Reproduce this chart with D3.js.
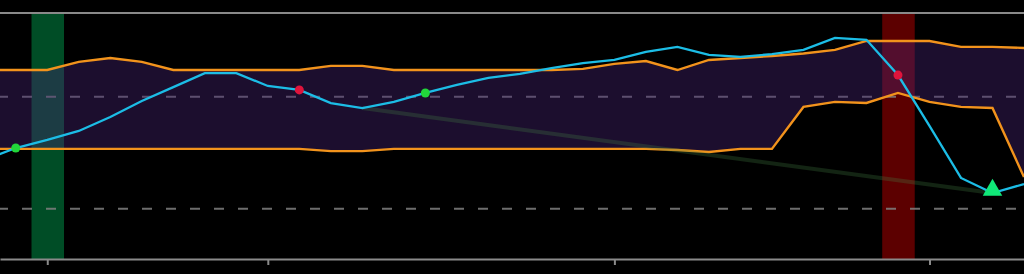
<!DOCTYPE html>
<html>
<head>
<meta charset="utf-8">
<script src="https://cdn.jsdelivr.net/npm/d3@7"></script>
<style>
  html, body { margin: 0; padding: 0; background: #000; }
  svg { display: block; }
</style>
</head>
<body>
<div id="chart"></div>
<script>
// bar index runs from -1 (just off the left edge) to 32
const idx = d3.range(-1, 33)

const upperBand = [79.6, 79.6, 79.6, 82.5, 83.9, 82.5, 79.6, 79.6, 79.6, 79.6, 79.6, 81.1, 81.1, 79.6, 79.6, 79.6,
    79.6, 79.6, 79.6, 80.0, 81.8, 82.8, 79.6, 83.2, 83.9, 84.6, 85.5, 86.8, 90.0, 90.0, 90.0, 87.9, 87.9, 87.5]
const lowerBand = [51.4, 51.4, 51.4, 51.4, 51.4, 51.4, 51.4, 51.4, 51.4, 51.4, 51.4, 50.6, 50.6, 51.4, 51.4, 51.4,
    51.4, 51.4, 51.4, 51.4, 51.4, 51.4, 51.0, 50.3, 51.4, 51.4, 66.4, 68.2, 67.8, 71.4, 68.2, 66.4, 66.0, 41.3]
const signal = [47.4, 51.7, 54.6, 57.8, 62.8, 68.5, 73.5, 78.5, 78.5, 73.9, 72.5, 67.8, 66.0, 68.2, 71.4, 74.3,
    76.8, 78.2, 80.3, 82.1, 83.2, 86.1, 87.9, 85.0, 84.3, 85.3, 86.8, 91.1, 90.4, 77.8, 59.6, 41.0, 35.6, 38.8]

const levels = [30, 70]
const tickIdx = [1, 8, 19, 29]
const buyDots = [0, 13]
const sellDots = [9, 28]
const buyZones = [1]
const sellZones = [28]
const trendFrom = 11
const trendTo = 31

const width = 1024, height = 274
const plotTop = 13, plotBottom = 259

const x = d3.scaleLinear().domain([-0.5, 32]).range([0, width])
const y = d3.scaleLinear().domain([12, 100]).range([plotBottom, plotTop])
const step = x(1) - x(0)
const val = (arr, i) => arr[idx.indexOf(i)]

const svg = d3.select('#chart').append('svg')
    .attr('width', width)
    .attr('height', height)
    .style('background', '#000')

svg.append('defs').append('clipPath').attr('id', 'plot')
    .append('rect').attr('x', 0).attr('y', plotTop).attr('width', width).attr('height', plotBottom - plotTop)

const g = svg.append('g').attr('clip-path', 'url(#plot)')

// highlight zones
g.selectAll('.buyzone').data(buyZones).enter().append('rect')
    .attr('x', d => x(d) - step / 2).attr('width', step + 1)
    .attr('y', plotTop).attr('height', plotBottom - plotTop)
    .attr('fill', '#004d26')
g.selectAll('.sellzone').data(sellZones).enter().append('rect')
    .attr('x', d => x(d) - step / 2).attr('width', step + 1)
    .attr('y', plotTop).attr('height', plotBottom - plotTop)
    .attr('fill', '#5c0000')

// level lines
g.selectAll('.level').data(levels).enter().append('line')
    .attr('x1', 0).attr('x2', width)
    .attr('y1', d => y(d)).attr('y2', d => y(d))
    .attr('stroke', '#808080').attr('stroke-width', 2)
    .attr('stroke-opacity', 0.85)
    .attr('stroke-dasharray', '10,14').attr('stroke-dashoffset', 2)

// channel fill
const area = d3.area()
    .x((d, i) => x(idx[i]))
    .y0((d, i) => y(lowerBand[i]))
    .y1((d, i) => y(upperBand[i]))
g.append('path').datum(upperBand)
    .attr('d', area)
    .attr('fill', 'rgb(70,35,115)').attr('fill-opacity', 0.4)

const line = arr => d3.line().x((d, i) => x(idx[i])).y(d => y(d))(arr)

g.append('path').attr('d', line(upperBand))
    .attr('fill', 'none').attr('stroke', '#f2931c').attr('stroke-width', 2.4)
g.append('path').attr('d', line(lowerBand))
    .attr('fill', 'none').attr('stroke', '#f2931c').attr('stroke-width', 2.4)

// faint trend line
g.append('line')
    .attr('x1', x(trendFrom)).attr('y1', y(val(signal, trendFrom)))
    .attr('x2', x(trendTo)).attr('y2', y(val(signal, trendTo)))
    .attr('stroke', 'rgb(70,130,70)').attr('stroke-opacity', 0.28)
    .attr('stroke-width', 4)

g.append('path').attr('d', line(signal))
    .attr('fill', 'none').attr('stroke', '#1cbde6').attr('stroke-width', 2.3)

g.selectAll('.buy').data(buyDots).enter().append('circle')
    .attr('cx', d => x(d)).attr('cy', d => y(val(signal, d)))
    .attr('r', 4.5).attr('fill', '#22d63a')
g.selectAll('.sell').data(sellDots).enter().append('circle')
    .attr('cx', d => x(d)).attr('cy', d => y(val(signal, d)))
    .attr('r', 4.5).attr('fill', '#e0143c')

g.append('path')
    .attr('d', d3.symbol().type(d3.symbolTriangle).size(165)())
    .attr('transform', 'translate(' + x(trendTo) + ',' + (y(val(signal, trendTo)) - 3) + ')')
    .attr('fill', '#10e878')

// frame
svg.append('line')
    .attr('x1', 0).attr('x2', width).attr('y1', plotTop).attr('y2', plotTop)
    .attr('stroke', '#8a8a8a').attr('stroke-width', 2)

const axis = d3.axisBottom(x).tickValues(tickIdx).tickSize(6).tickSizeOuter(0).tickFormat('')
const ax = svg.append('g').attr('transform', 'translate(0,' + plotBottom + ')').call(axis)
ax.select('.domain').attr('stroke', '#8a8a8a').attr('stroke-width', 2)
ax.selectAll('.tick line').attr('stroke', '#8a8a8a').attr('stroke-width', 2)
</script>
</body>
</html>
